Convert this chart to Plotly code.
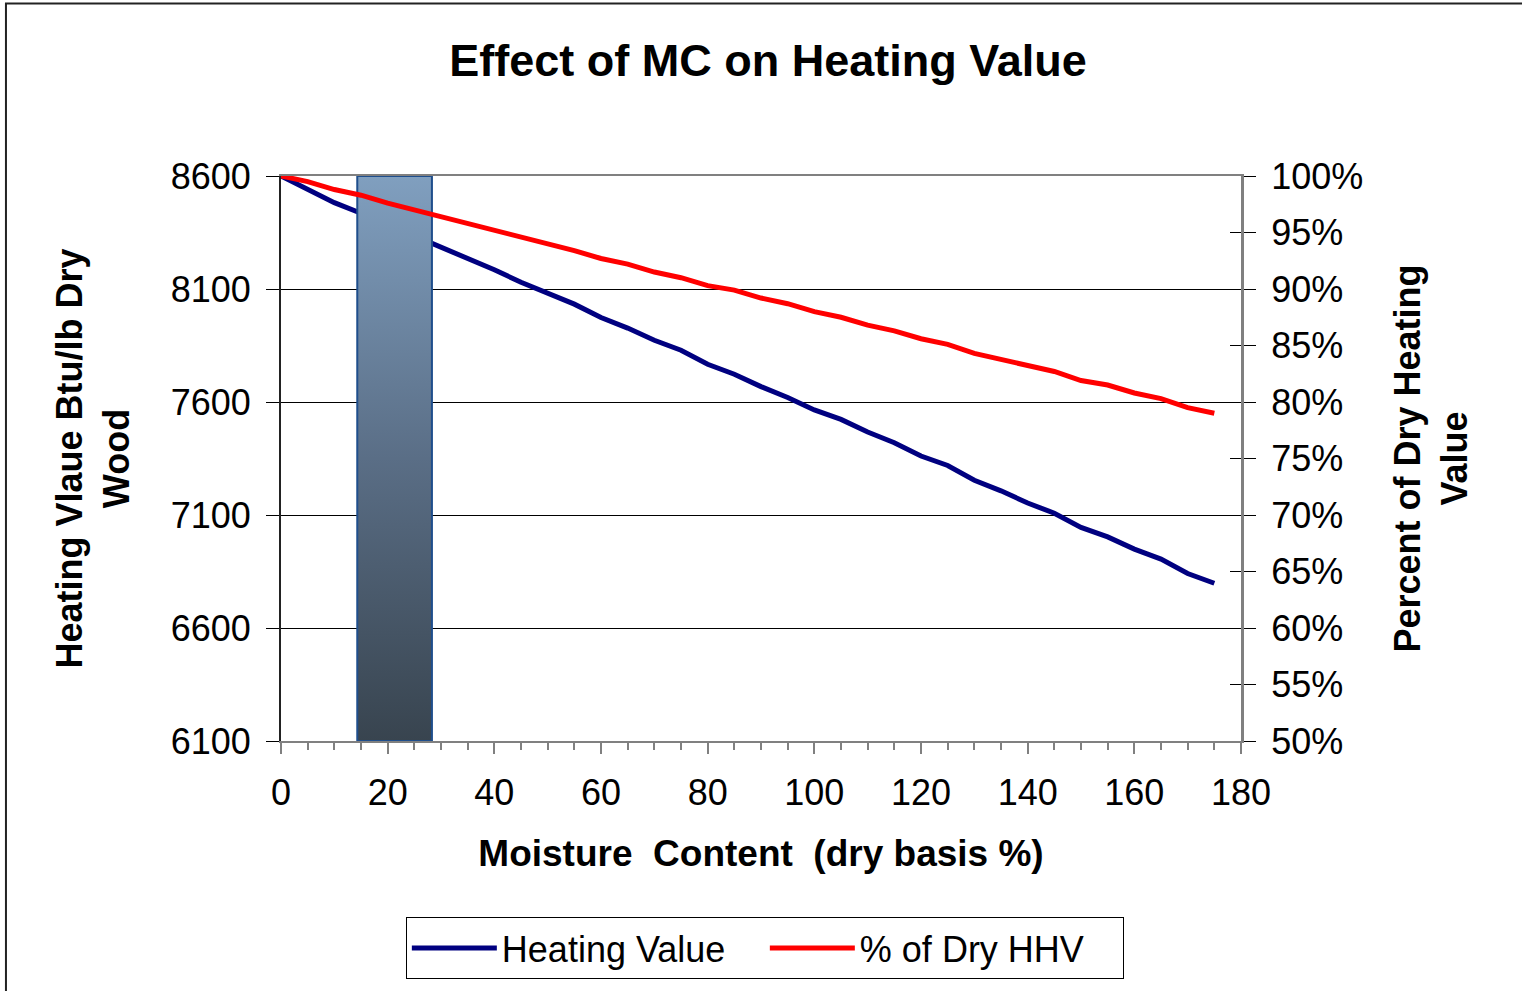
import plotly.graph_objects as go

# ---- data ----
mc = [0, 5, 10, 15, 20, 25, 30, 35, 40, 45, 50, 55, 60, 65, 70, 75, 80, 85,
      90, 95, 100, 105, 110, 115, 120, 125, 130, 135, 140, 145, 150, 155, 160, 165, 170, 175]
heating_value = [8600, 8540, 8482, 8435, 8380, 8335, 8285, 8240, 8185, 8130, 8080, 8033,
                 7974, 7927, 7873, 7829, 7767, 7723, 7668, 7620, 7565, 7523, 7467, 7420,
                 7361, 7319, 7254, 7207, 7153, 7108, 7045, 7003, 6949, 6905, 6841, 6798]
pct_dry_hhv = [1.000, 0.995, 0.988, 0.983, 0.976, 0.970, 0.964, 0.959, 0.952, 0.947, 0.940,
               0.934, 0.927, 0.922, 0.915, 0.910, 0.903, 0.899, 0.892, 0.887, 0.880, 0.875,
               0.868, 0.863, 0.856, 0.851, 0.843, 0.838, 0.832, 0.827, 0.819, 0.815, 0.808,
               0.803, 0.795, 0.790]
band_mc = [14.3, 28.3]          # highlighted moisture-content band
band_hv = [6100, 8600]          # band spans the full left-axis range

x_range = [0, 180]
hv_range = [6100, 8600]
pct_range = [0.5, 1.0]

FONT = "Liberation Sans, Arial, sans-serif"

fig = go.Figure()

fig.add_trace(go.Scatter(x=mc, y=heating_value, name="Heating Value", mode="lines",
                         line=dict(color="#000080", width=5), yaxis="y"))
fig.add_trace(go.Scatter(x=mc, y=pct_dry_hhv, name="% of Dry HHV", mode="lines",
                         line=dict(color="#FF0000", width=5), yaxis="y2"))

# highlighted band with vertical gradient, drawn on top of the lines
bx = [band_mc[0], band_mc[1], band_mc[1], band_mc[0], band_mc[0]]
by = [band_hv[0], band_hv[0], band_hv[1], band_hv[1], band_hv[0]]
fig.add_trace(go.Scatter(x=bx, y=by, mode="lines", fill="toself", showlegend=False,
                         line=dict(color="#1F4E8C", width=2),
                         fillgradient=dict(type="vertical", start=band_hv[0], stop=band_hv[1],
                                           colorscale=[[0, "#38444F"], [0.5, "#5A6E86"], [1, "#809FBF"]]),
                         yaxis="y", hoverinfo="skip"))

# dummy trace for the inside-tick overlay axis
fig.add_trace(go.Scatter(x=[None], y=[None], yaxis="y3", showlegend=False, hoverinfo="skip"))

fig.update_layout(
    width=1522, height=991, autosize=False,
    margin=dict(l=281, r=281, t=176, b=250),
    paper_bgcolor="white", plot_bgcolor="white",
    font=dict(family=FONT, color="black"),
    showlegend=True,
    title=dict(text="<b>Effect of MC on Heating Value</b>", font=dict(size=45, family=FONT),
               x=768 / 1522, xref="container", xanchor="center",
               y=1 - 60 / 991, yref="container", yanchor="middle"),
    xaxis=dict(range=x_range, dtick=20, tick0=0, ticks="outside", ticklen=11, tickwidth=2,
               tickcolor="#808080", showline=True, linecolor="#808080", linewidth=2,
               mirror=True, showgrid=False, zeroline=False,
               minor=dict(dtick=5, ticks="outside", ticklen=7, tickwidth=2, tickcolor="#808080",
                          showgrid=False),
               tickfont=dict(size=36), ticklabelstandoff=8,
               title=dict(text="<b>Moisture  Content  (dry basis %)</b>", font=dict(size=37),
                          standoff=28)),
    yaxis=dict(range=hv_range, dtick=500, tick0=6100, ticks="outside", ticklen=13, tickwidth=1,
               tickcolor="black", showline=True, linecolor="#222222", linewidth=2,
               showgrid=True, gridcolor="black", gridwidth=1, zeroline=False,
               tickfont=dict(size=36), ticklabelstandoff=8,
               title=dict(text="<b>Heating Vlaue Btu/lb Dry<br>Wood</b>", font=dict(size=36),
                          standoff=30)),
    yaxis2=dict(range=pct_range, dtick=0.05, tick0=0.5, tickformat=".0%", overlaying="y",
                side="right", anchor="x", ticks="outside", ticklen=12, tickwidth=1,
                tickcolor="black", showline=True, linecolor="#808080", linewidth=3,
                showgrid=False, zeroline=False,
                tickfont=dict(size=36), ticklabelstandoff=8,
                title=dict(text="<b>Percent of Dry Heating<br>Value</b>", font=dict(size=36),
                           standoff=33)),
    yaxis3=dict(range=pct_range, dtick=0.05, tick0=0.5, overlaying="y", side="right",
                anchor="x", ticks="inside", ticklen=11, tickwidth=1, tickcolor="black",
                showticklabels=False, showline=False, showgrid=False, zeroline=False),
    legend=dict(orientation="h", x=0.504, xanchor="center", y=-0.3115, yanchor="top",
                bgcolor="white", bordercolor="black", borderwidth=1,
                font=dict(size=36, family=FONT), itemwidth=85,
                entrywidth=258, entrywidthmode="pixels"),
    shapes=[dict(type="rect", xref="paper", yref="paper", x0=-0.2865, x1=1.35,
                 y0=-0.6, y1=1.3053, line=dict(color="#222222", width=2),
                 fillcolor="rgba(0,0,0,0)", layer="below")],
    hovermode=False,
)

fig.write_html("out.html", config={"displayModeBar": False},
               post_script="document.body.style.margin='0';document.body.style.overflow='hidden';")
